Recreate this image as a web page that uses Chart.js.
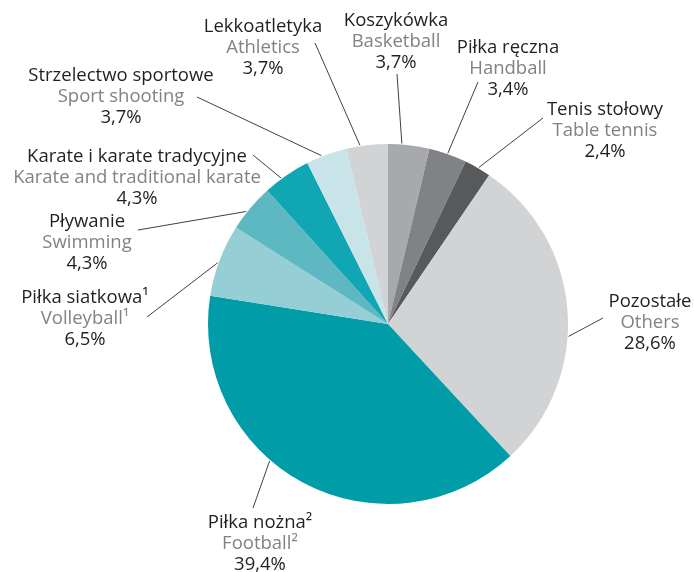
<!DOCTYPE html>
<html>
<head>
<meta charset="utf-8">
<script src="https://cdn.jsdelivr.net/npm/chart.js@4/dist/chart.umd.min.js"></script>
<style>
    html, body { margin: 0; padding: 0; background: #ffffff; }
    #wrap { width: 694px; height: 572px; position: relative; }
</style>
</head>
<body>
<div id="wrap"><canvas id="sports_chart"></canvas></div>
<script>
// Chart data (clockwise from the top)
const namesPl  = ['Koszykówka', 'Piłka ręczna', 'Tenis stołowy', 'Pozostałe', 'Piłka nożna²', 'Piłka siatkowa¹', 'Pływanie', 'Karate i karate tradycyjne', 'Strzelectwo sportowe', 'Lekkoatletyka'];
const namesEn  = ['Basketball', 'Handball', 'Table tennis', 'Others', 'Football²', 'Volleyball¹', 'Swimming', 'Karate and traditional karate', 'Sport shooting', 'Athletics'];
const shares   = [3.7, 3.4, 2.4, 28.6, 39.4, 6.5, 4.3, 4.3, 3.7, 3.7];
const colors   = ['#a7a9ac', '#808285', '#58595b', '#d1d3d4', '#009ca8', '#96ced5', '#5db8c2', '#10a6b3', '#c9e4e9', '#d1d3d4'];

// Label layout: text centre x, first baseline y, leader start, where on the slice the leader ends
const labelLayout = [
    { x: 396, y: 26,  lx: 397, ly: 74,  f: 0.33 },
    { x: 508, y: 53,  lx: 478, ly: 82,  f: 0.49 },
    { x: 605, y: 115, lx: 543, ly: 118, f: 0.53 },
    { x: 650, y: 307, lx: 603, ly: 318, f: 0.58 },
    { x: 260, y: 528, lx: 253, ly: 508, f: 0.59 },
    { x: 85,  y: 303, lx: 147, ly: 317, f: 0.46 },
    { x: 87,  y: 227, lx: 138, ly: 230, f: 0.39 },
    { x: 137, y: 162, lx: 253, ly: 155, f: 0.38 },
    { x: 121, y: 81,  lx: 197, ly: 97,  f: 0.38 },
    { x: 263, y: 32,  lx: 315, ly: 43,  f: 0.33 }
];

const fontFamily = "'Open Sans', 'Noto Sans', sans-serif";
const lineGap = 21;

function fmt( v ) {
    return v.toFixed(1).replace('.', ',') + '%';
}

const labelPlugin = {
    id: 'sportLabels',
    afterDatasetsDraw( chart ) {
        const ctx  = chart.ctx;
        const meta = chart.getDatasetMeta(0);
        ctx.save();
        meta.data.forEach( ( arc, i ) => {
            const lay = labelLayout[i];
            const p   = arc.getProps(['x', 'y', 'startAngle', 'endAngle', 'outerRadius'], true);
            const a   = p.startAngle + ( p.endAngle - p.startAngle ) * lay.f;
            const r   = p.outerRadius + 1;

            // leader line
            ctx.strokeStyle = '#2b2a2a';
            ctx.lineWidth = 0.9;
            ctx.beginPath();
            ctx.moveTo( lay.lx, lay.ly );
            ctx.lineTo( p.x + Math.cos(a) * r, p.y + Math.sin(a) * r );
            ctx.stroke();

            // texts
            ctx.textAlign = 'center';
            ctx.textBaseline = 'alphabetic';
            ctx.font = '18.5px ' + fontFamily;
            ctx.fillStyle = '#231f20';
            ctx.fillText( namesPl[i], lay.x, lay.y );
            ctx.fillStyle = '#808285';
            ctx.fillText( namesEn[i], lay.x, lay.y + lineGap );
            ctx.fillStyle = '#231f20';
            ctx.fillText( fmt( shares[i] ), lay.x, lay.y + lineGap * 2 );
        });
        ctx.restore();
    }
};

let sportsCtx = document.getElementById('sports_chart');

new Chart(sportsCtx, {
    type: 'pie',
    data: {
        labels: namesEn,
        datasets: [{
            data: shares,
            backgroundColor: colors,
            borderWidth: 0
        }]
    },
    options: {
        responsive: true,
        maintainAspectRatio: false,
        animation: false,
        rotation: 0,
        layout: {
            padding: { left: 208, right: 126, top: 144, bottom: 68 }
        },
        plugins: {
            legend: { display: false },
            tooltip: { enabled: false }
        }
    },
    plugins: [labelPlugin]
});
</script>
</body>
</html>
